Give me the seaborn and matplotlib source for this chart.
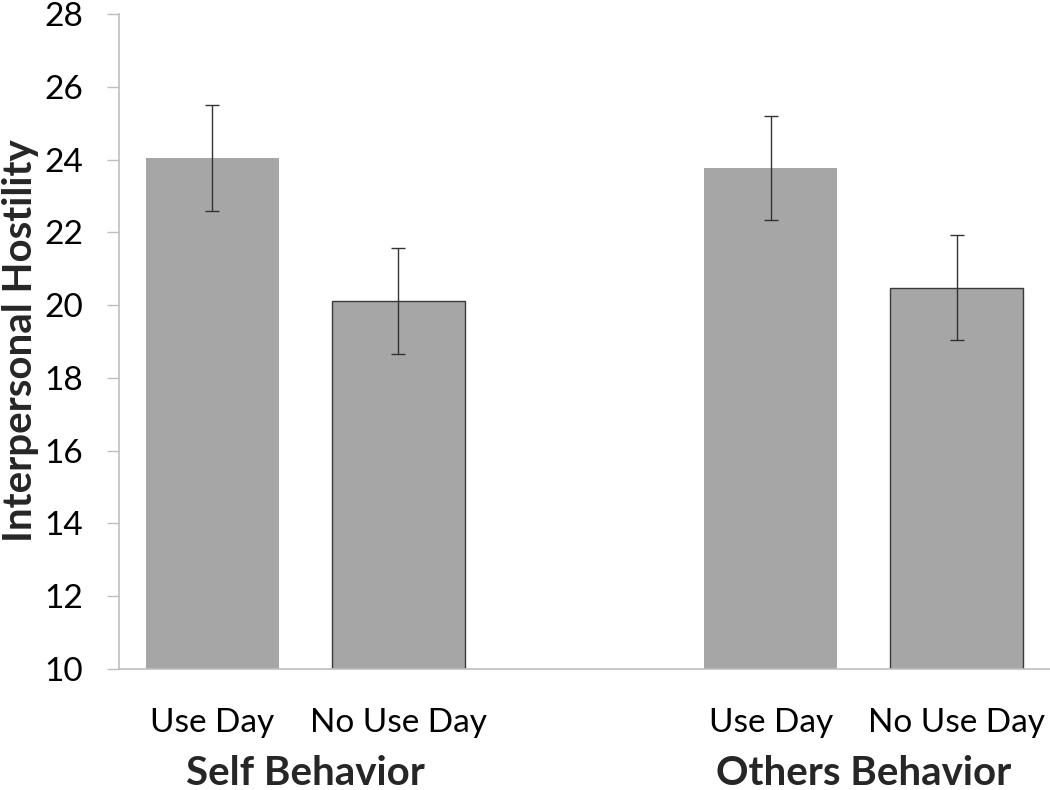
import matplotlib
matplotlib.use('Agg')
from matplotlib import pyplot as plt
from matplotlib import transforms as mtransforms
import seaborn as sns
import numpy as np
import pandas as pd

# dados
groups = ['Self Behavior', 'Others Behavior']
conditions = ['Use Day', 'No Use Day', 'Use Day', 'No Use Day']
positions = [0, 1, 3, 4]
hostility = [24.04, 20.12, 23.77, 20.48]
errors = [1.45, 1.46, 1.43, 1.45]
y_ticks = [10, 12, 14, 16, 18, 20, 22, 24, 26, 28]

sns.set_theme(style='white')
plt.rcParams['font.family'] = ['Lato', 'DejaVu Sans']

df = pd.DataFrame({'pos': positions, 'cond': conditions, 'val': hostility})

fig = plt.figure(figsize=(10.5, 7.9), dpi=100)
ax = fig.add_axes([119 / 1050, 121 / 790, 931 / 1050, 655 / 790])

bar_color = '#a6a6a6'
sns.barplot(data=df, x='pos', y='val', native_scale=True, width=0.715,
            color=bar_color, saturation=1, errorbar=None, ax=ax)

# contorno escuro apenas nas barras "No Use Day"
for patch, cond in zip(ax.patches, conditions):
    if cond == 'No Use Day':
        patch.set_edgecolor('#3a3a3a')
        patch.set_linewidth(1.0)
    else:
        patch.set_edgecolor(bar_color)
        patch.set_linewidth(0)

ax.errorbar(positions, hostility, yerr=errors, fmt='none', ecolor='#333333',
            elinewidth=1.0, capsize=5, capthick=1.0, zorder=5)

ax.set_ylim(10, 28)
ax.set_xlim(-0.5, 4.5)
ax.set_yticks(y_ticks)
ax.set_yticklabels([str(t) for t in y_ticks], fontsize=24, color='black')
ax.set_xticks(positions)
ax.set_xticklabels(conditions, fontsize=24, color='black')
ax.tick_params(axis='x', length=0, pad=28)
ax.tick_params(axis='y', left=True, length=9, width=1, color='#bfbfbf', pad=17)

ax.set_xlabel('')
ax.set_ylabel('Interpersonal Hostility', fontsize=29, fontweight='bold', va='center')
ax.yaxis.set_label_coords(-0.106, 0.502)

for side in ['top', 'right']:
    ax.spines[side].set_visible(False)
for side in ['left', 'bottom']:
    ax.spines[side].set_color('#bfbfbf')
    ax.spines[side].set_linewidth(1.2)

# nomes dos grupos abaixo das categorias
trans = mtransforms.blended_transform_factory(ax.transData, ax.transAxes)
for gx, name in zip([0.5, 3.5], groups):
    ax.text(gx, -0.177, name, transform=trans, ha='center', va='baseline',
            fontsize=29, fontweight='bold')

fig.savefig('out.png', dpi=100)
